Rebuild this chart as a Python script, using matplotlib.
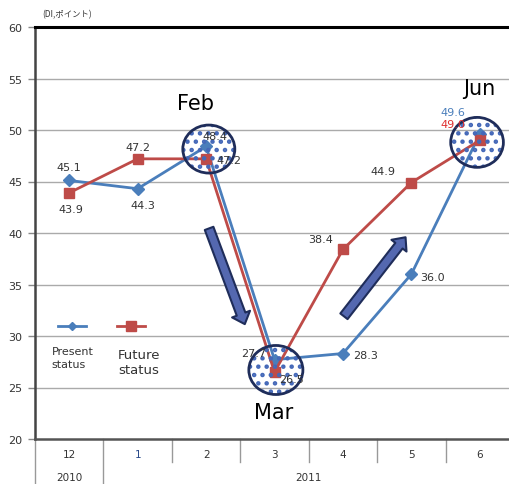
import matplotlib
matplotlib.use("Agg")
import matplotlib.pyplot as plt
from matplotlib.patches import Ellipse, FancyArrowPatch, Rectangle
from matplotlib.lines import Line2D
import matplotlib.transforms as mtransforms

# ---- data ----
categories = ["12", "1", "2", "3", "4", "5", "6"]
years = ["2010", "2011"]
present = [45.1, 44.3, 48.4, 27.7, 28.3, 36.0, 49.6]
future = [43.9, 47.2, 47.2, 26.5, 38.4, 44.9, 49.0]
present_labels = ["45.1", "44.3", "48.4", "27.7", "28.3", "36.0", "49.6"]
future_labels = ["43.9", "47.2", "47.2", "26.5", "38.4", "44.9", "49.0"]
yticks = [20, 25, 30, 35, 40, 45, 50, 55, 60]
series_names = ["Present\nstatus", "Future\nstatus"]
month_names = ["Feb", "Mar", "Jun"]
unit_label = "(DI,ポイント)"

BLUE = "#4a7ebb"
RED = "#be4b48"
NAVY = "#1f2d5a"
DOT = "#4468b8"
TXT = "#333333"

plt.rcParams["hatch.linewidth"] = 2.0

fig = plt.figure(figsize=(5.09, 4.85), dpi=100)
ax = fig.add_axes([35/509, 45/485, 479/509, 412/485])
x = list(range(len(categories)))

ax.set_xlim(-0.5, len(categories) - 0.5)
ax.set_ylim(20, 60)
ax.set_yticks(yticks)
ax.set_yticklabels([str(v) for v in yticks], fontsize=8, color=TXT)
ax.tick_params(axis="y", length=5, width=1, color="#888888", pad=4, direction="out")
ax.set_xticks([])
for v in yticks[1:-1]:
    ax.axhline(v, color="#aaaaaa", lw=1, zorder=0)
ax.spines["right"].set_visible(False)
ax.spines["top"].set_color("black")
ax.spines["top"].set_linewidth(2.2)
ax.spines["left"].set_color("#444444")
ax.spines["left"].set_linewidth(1.8)
ax.spines["bottom"].set_color("#555555")
ax.spines["bottom"].set_linewidth(1.8)

# legend background (partially hides the 30 gridline)
ax.add_patch(Rectangle((0.017, 0.255), 0.29, 0.03, transform=ax.transAxes,
                       facecolor="white", edgecolor="none", alpha=0.8, zorder=0.5))

# lines
ax.plot(x, present, color=BLUE, lw=2, marker="D", ms=6, zorder=3)
ax.plot(x, future, color=RED, lw=2, marker="s", ms=7.5, zorder=3)

# data labels (offsets in pixels)
p_off = [(0, 13), (5, -16), (9, 10), (-21, 7), (23, -1), (21, -3), (-27, 22)]
f_off = [(2, -16), (0, 12), (23, -1), (17, -7), (-22, 10), (-28, 12), (-27, 16)]
for i in x:
    pc = BLUE if i == 6 else TXT
    fc = "#e03030" if i == 6 else TXT
    ax.annotate(present_labels[i], (x[i], present[i]), textcoords="offset pixels",
                xytext=p_off[i], ha="center", va="center", fontsize=8, color=pc, zorder=6)
    ax.annotate(future_labels[i], (x[i], future[i]), textcoords="offset pixels",
                xytext=f_off[i], ha="center", va="center", fontsize=8, color=fc, zorder=6)

# highlighted circles
circles = [(2.04, 48.15, 0.76, 4.66), (3.02, 26.7, 0.79, 4.76), (5.96, 48.8, 0.77, 4.85)]
for cx, cy, w, h in circles:
    e1 = Ellipse((cx, cy), w, h, facecolor="none", edgecolor=DOT, hatch="..", lw=0, zorder=4)
    ax.add_patch(e1)
    e2 = Ellipse((cx, cy), w, h, facecolor="none", edgecolor=NAVY, lw=2, zorder=5)
    ax.add_patch(e2)

# month labels
month_pos = [(1.85, 52.6), (2.99, 22.6), (5.99, 54.1)]
for name, (mx, my) in zip(month_names, month_pos):
    ax.text(mx, my, name, fontsize=15, ha="center", va="center", color="black", zorder=6)

# block arrows
arrows = [((2.03, 40.7), (2.58, 30.9)), ((3.99, 31.7), (4.94, 39.8))]
for a, b in arrows:
    arr = FancyArrowPatch(a, b, arrowstyle="simple,head_length=0.7,head_width=1.25,tail_width=0.6",
                          mutation_scale=11, facecolor="#5468b0", edgecolor=NAVY, lw=1.5, zorder=5)
    ax.add_patch(arr)

# custom legend
ax.add_line(Line2D([0.048, 0.077, 0.106], [0.274, 0.274, 0.274], transform=ax.transAxes, color=BLUE,
                   lw=2, marker="D", ms=4.5, markevery=[1], zorder=6))
ax.add_line(Line2D([0.171, 0.2005, 0.230], [0.274, 0.274, 0.274], transform=ax.transAxes, color=RED,
                   lw=2, marker="s", ms=6.5, markevery=[1], zorder=6))
ax.text(0.035, 0.226, series_names[0], transform=ax.transAxes, fontsize=8, va="top", ha="left",
        color=TXT, linespacing=1.35)
ax.text(0.173, 0.221, series_names[1], transform=ax.transAxes, fontsize=9.5, va="top", ha="left",
        color=TXT, linespacing=1.25)

# category axis table
trans = mtransforms.blended_transform_factory(ax.transData, ax.transAxes)
for i, c in enumerate(categories):
    ax.text(i, -0.036, c, transform=trans, ha="center", va="center", fontsize=7.5,
            color="#2a4a8a" if c == "1" else TXT)
for i in range(len(categories) - 1):
    b = i + 0.5
    y0 = -0.109 if i == 0 else -0.056
    ax.plot([b, b], [0, y0], transform=trans, color="#999999", lw=1, clip_on=False)
ax.plot([-0.5, -0.5], [0, -0.109], transform=trans, color="#999999", lw=1, clip_on=False)
ax.text(0, -0.092, years[0], transform=trans, ha="center", va="center", fontsize=7.5, color=TXT)
ax.text(3.5, -0.092, years[1], transform=trans, ha="center", va="center", fontsize=7.5, color=TXT)

# unit label
fig.text(42/509, 1 - 15/485, unit_label, fontsize=6, ha="left", va="center", color=TXT,
         family=["Noto Sans CJK JP", "DejaVu Sans"])

fig.savefig("out.png", dpi=100)
